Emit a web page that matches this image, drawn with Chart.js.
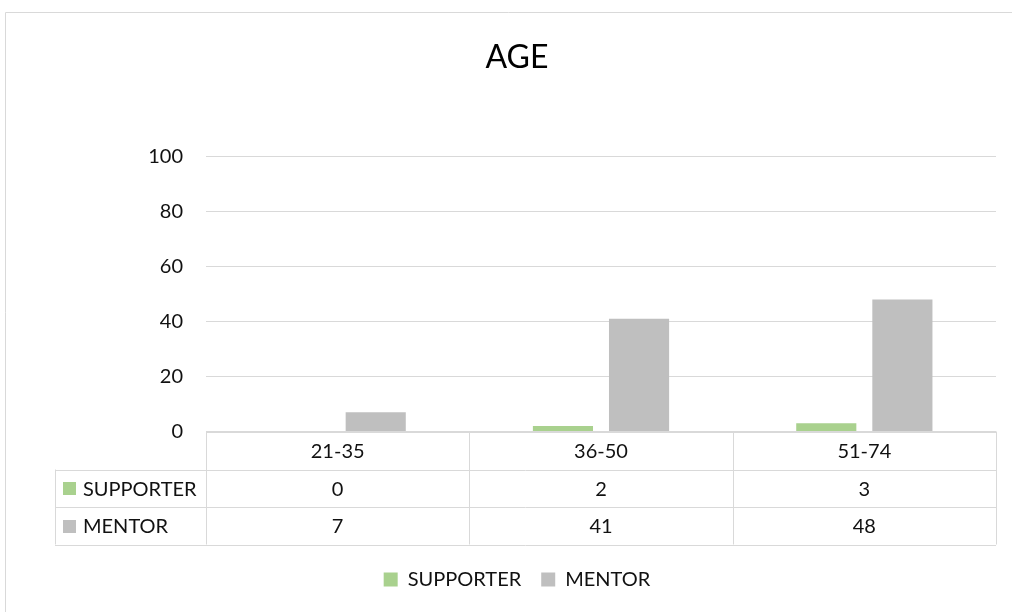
<!DOCTYPE html>
<html>
<head>
<meta charset="utf-8">
<script src="https://cdn.jsdelivr.net/npm/chart.js@4/dist/chart.umd.min.js"></script>
<style>
  html, body { margin: 0; padding: 0; background: #fff; }
  #wrap { width: 1012px; height: 612px; }
</style>
</head>
<body>
<div id="wrap"><canvas id="ageChart" width="1012" height="612"></canvas></div>
<script>
// data
const ageGroups = ['21-35', '36-50', '51-74'];
const supporter = [0, 2, 3];
const mentor = [7, 41, 48];
const yTicks = [0, 20, 40, 60, 80, 100];

const GREEN = '#A9D18E';
const GREY = '#BFBFBF';
const LINE = '#D9D9D9';
const TEXT = '#111111';
const FONT = 'Lato';

// draws the outer frame and the data table under the plot
const tablePlugin = {
    id: 'dataTable',
    beforeDraw(chart) {
        const ctx = chart.ctx;
        ctx.save();
        ctx.strokeStyle = LINE;
        ctx.lineWidth = 1;
        ctx.beginPath();
        ctx.moveTo(5.5, 612);
        ctx.lineTo(5.5, 12.5);
        ctx.lineTo(1012, 12.5);
        ctx.stroke();
        ctx.restore();
    },
    afterDraw(chart) {
        const ctx = chart.ctx;
        const area = chart.chartArea;
        const x = chart.scales.x;
        const colW = (area.right - area.left) / ageGroups.length;
        const top = area.bottom;
        const rowH = [38, 37.5, 37.5];
        const y1 = top + rowH[0];
        const y2 = y1 + rowH[1];
        const y3 = y2 + rowH[2];
        const tableLeft = 55;

        ctx.save();
        ctx.strokeStyle = LINE;
        ctx.lineWidth = 1;
        const px = v => Math.round(v) + 0.5;
        ctx.beginPath();
        ctx.moveTo(area.left, px(top)); ctx.lineTo(area.right, px(top));
        [y1, y2, y3].forEach(yy => {
            ctx.moveTo(tableLeft, px(yy)); ctx.lineTo(area.right, px(yy));
        });
        ctx.moveTo(px(tableLeft), y1); ctx.lineTo(px(tableLeft), y3);
        for (let i = 0; i <= ageGroups.length; i++) {
            const cx = px(area.left + i * colW);
            ctx.moveTo(cx, top); ctx.lineTo(cx, y3);
        }
        ctx.stroke();

        ctx.fillStyle = TEXT;
        ctx.font = '20px ' + FONT;
        ctx.textAlign = 'center';
        ctx.textBaseline = 'middle';
        ageGroups.forEach((g, i) => {
            const cx = x.getPixelForValue(i);
            ctx.fillText(g, cx, top + rowH[0] / 2 + 1);
            ctx.fillText(String(supporter[i]), cx, y1 + rowH[1] / 2 + 1);
            ctx.fillText(String(mentor[i]), cx, y2 + rowH[2] / 2 + 1);
        });

        const rows = [
            { label: 'SUPPORTER', color: GREEN, y: y1 + rowH[1] / 2 },
            { label: 'MENTOR', color: GREY, y: y2 + rowH[2] / 2 }
        ];
        ctx.textAlign = 'left';
        rows.forEach(r => {
            ctx.fillStyle = r.color;
            ctx.fillRect(63, Math.round(r.y) - 6, 13, 13);
            ctx.fillStyle = TEXT;
            ctx.fillText(r.label, 83, r.y + 1);
        });
        ctx.restore();
    }
};

const ctx = document.getElementById('ageChart').getContext('2d');
new Chart(ctx, {
    type: 'bar',
    data: {
        labels: ageGroups,
        datasets: [
            {
                label: 'SUPPORTER',
                data: supporter,
                backgroundColor: GREEN,
                categoryPercentage: 0.578,
                barPercentage: 0.79
            },
            {
                label: 'MENTOR',
                data: mentor,
                backgroundColor: GREY,
                categoryPercentage: 0.578,
                barPercentage: 0.79
            }
        ]
    },
    options: {
        responsive: false,
        animation: false,
        layout: {
            padding: { top: 0, left: 38, right: 16, bottom: 12.5 }
        },
        plugins: {
            title: {
                display: true,
                text: 'AGE',
                color: '#000',
                font: { family: FONT, size: 32, weight: 'normal' },
                padding: { top: 38, bottom: 80 }
            },
            legend: {
                position: 'bottom',
                labels: {
                    color: TEXT,
                    font: { family: FONT, size: 20 },
                    boxWidth: 14,
                    boxHeight: 14,
                    padding: 20
                }
            },
            tooltip: { enabled: false }
        },
        scales: {
            x: {
                display: true,
                grid: { display: false },
                border: { display: false },
                ticks: { display: false },
                afterFit: scale => { scale.height = 118; }
            },
            y: {
                min: 0,
                max: 100,
                afterBuildTicks: scale => {
                    scale.ticks = yTicks.map(v => ({ value: v }));
                },
                grid: { color: LINE, lineWidth: 1, drawTicks: false },
                border: { display: false },
                ticks: {
                    color: TEXT,
                    font: { family: FONT, size: 20 },
                    padding: 23
                },
                afterFit: scale => { scale.width = 168; }
            }
        }
    },
    plugins: [tablePlugin]
});
</script>
</body>
</html>
